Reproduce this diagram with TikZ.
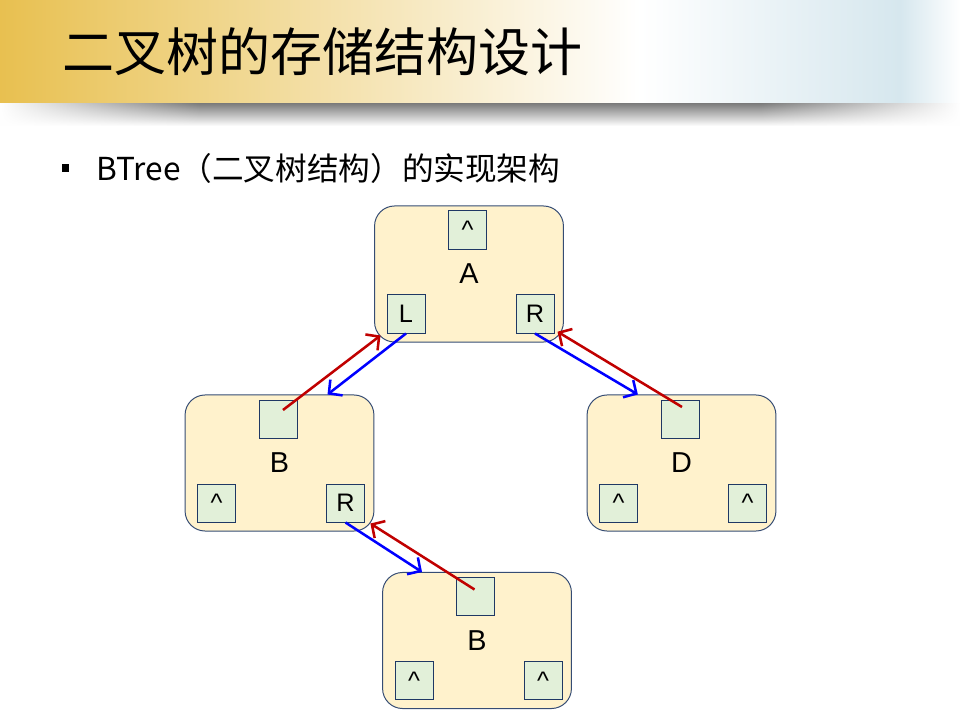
\documentclass[tikz,border=0pt]{standalone}
\usepackage{fontspec}
\setmainfont{Liberation Sans}
\newfontfamily\cjk{Noto Sans CJK SC}
\usepackage{tikz}
\usetikzlibrary{arrows.meta,positioning,calc,fadings}
\usepackage{xcolor}
\definecolor{barGold}{HTML}{E8C050}
\definecolor{barBlue}{HTML}{D6E7EE}
\definecolor{nodeFill}{HTML}{FFF2CC}
\definecolor{slotFill}{HTML}{E2F0D9}
\definecolor{edgeNavy}{HTML}{1F3864}
\definecolor{linkBlue}{HTML}{0000FF}
\definecolor{linkRed}{HTML}{C00000}
\newcommand{\upmark}{\textasciicircum}

\begin{document}
\begin{tikzpicture}[x=0.025cm, y=-0.025cm,
    treenode/.style={draw=edgeNavy!90, fill=nodeFill, rounded corners=0.5cm, line width=0.7pt,
        minimum width=4.72cm, minimum height=3.4cm, font=\fontsize{20.5}{24}\selectfont},
    slot/.style={draw=edgeNavy, fill=slotFill, line width=0.7pt, minimum size=0.95cm,
        inner sep=0pt, font=\fontsize{18}{20}\selectfont},
    down/.style={draw=linkBlue, line width=1.8pt, ->},
    up/.style={draw=linkRed, line width=1.8pt, ->},
    >={Straight Barb[length=2.4mm, width=5mm]}]
    \useasboundingbox (0,0) rectangle (960,720);

    % Title bar
    \shade[left color=barGold, right color=white] (0,0) rectangle (640,103);
    \shade[left color=white, right color=barBlue] (640,0) rectangle (900,103);
    \shade[left color=barBlue, right color=white] (900,0) rectangle (960,103);
    \shade[top color=black!50, bottom color=white] (0,104) rectangle (960,126);
    \fill[white, path fading=east] (0,103.5) rectangle (200,126);
    \fill[white, path fading=west] (760,103.5) rectangle (960,126);
    \node[anchor=west, inner sep=0pt] (title) at (62,52)
        {\cjk\fontsize{37}{40}\selectfont 二叉树的存储结构设计};

    % Bullet line
    \node[fill=black, inner sep=0pt, minimum size=0.19cm] (bullet) at (65.5,168) {};
    \node[anchor=west, inner sep=0pt] (intro) at (96,168)
        {\cjk\fontsize{22.5}{26}\selectfont BTree（二叉树结构）的实现架构};

    % Tree nodes with their slots
    \foreach \nm/\px/\py/\txt/\lt/\rt/\up in {A/469/274/A/L/R/\upmark,
            Bl/279.5/463/B/\upmark/R/{}, D/681.5/463/D/\upmark/\upmark/{},
            Bb/477/640.5/B/\upmark/\upmark/{}} {
        \node[treenode] (\nm) at (\px,\py) {\txt};
        \node[slot] (\nm-up) at ($(\nm)+(-1.5,-44)$) {\up};
        \node[slot] (\nm-lt) at ($(\nm)+(-63,40)$) {\lt};
        \node[slot] (\nm-rt) at ($(\nm)+(66,40)$) {\rt};
    }

    % Child links (blue) and parent links (red)
    \draw[down] (A-lt.south) -- ([xshift=1.2cm]Bl.north);
    \draw[up] ([shift={(0.125cm,0.225cm)}]Bl-up.center) -- ([shift={(0.16cm,0.175cm)}]A.south west);
    \draw[down] (A-rt.south) -- ([xshift=-1.09cm]D.north);
    \draw[up] ([shift={(0.05cm,0.3cm)}]D-up.center) -- ([shift={(-0.16cm,0.27cm)}]A.south east);
    \draw[down] (Bl-rt.south) -- ([xshift=-1.375cm]Bb.north);
    \draw[up] ([shift={(-0.025cm,0.175cm)}]Bb-up.center) -- ([shift={(-0.1cm,0.2cm)}]Bl.south east);
\end{tikzpicture}
\end{document}
